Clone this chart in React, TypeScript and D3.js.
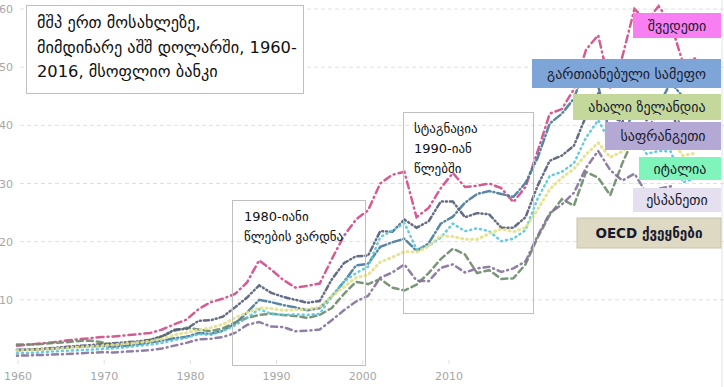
import { useEffect, useRef } from 'react';
import * as d3 from 'd3';

const years = d3.range(1960, 2017);
const xTickYears = [1960, 1970, 1980, 1990, 2000, 2010];
const yTicks = [10, 20, 30, 40, 50, 60];

// GDP per capita, thousand USD
const sweden = [2.1, 2.3, 2.5, 2.7, 3.0, 3.2, 3.4, 3.6, 3.7, 3.9, 4.1, 4.3, 4.9, 5.8, 6.6, 8.4, 9.6, 10.2, 11.0, 13.0,
  16.8, 15.2, 13.4, 12.1, 12.4, 12.8, 17.0, 21.0, 23.8, 25.4, 30.0, 31.5, 32.0, 24.2, 25.8, 29.2, 31.8, 29.4, 29.6, 30.0,
  29.2, 26.8, 29.4, 35.5, 42.0, 42.8, 46.2, 53.0, 55.5, 46.5, 51.8, 60.0, 58.0, 60.5, 57.5, 50.8, 51.5];
const uk = [1.4, 1.45, 1.5, 1.6, 1.75, 1.9, 2.0, 2.05, 1.95, 2.1, 2.35, 2.65, 3.0, 3.4, 3.65, 4.3, 4.15, 4.7, 5.9, 7.8,
  10.0, 9.6, 9.1, 8.7, 8.2, 8.6, 10.6, 13.1, 15.9, 16.2, 19.1, 19.9, 20.5, 18.4, 19.7, 23.1, 24.3, 26.7, 28.2, 28.7,
  28.2, 27.7, 30.1, 34.4, 40.3, 42.0, 44.6, 50.4, 46.8, 38.3, 39.1, 42.0, 42.5, 43.4, 47.4, 44.9, 41.1];
const newZealand = [2.3, 2.3, 2.4, 2.6, 2.7, 2.9, 3.0, 2.7, 2.2, 2.5, 2.7, 3.1, 3.7, 4.7, 5.2, 4.9, 4.6, 5.1, 6.1, 6.9,
  7.4, 7.6, 7.4, 7.2, 6.9, 7.4, 8.6, 11.0, 13.1, 12.7, 13.6, 12.1, 11.6, 12.6, 14.6, 17.0, 18.8, 17.8, 14.6, 15.1,
  13.6, 13.7, 16.1, 20.7, 24.6, 27.3, 26.2, 32.0, 31.0, 28.0, 33.5, 38.1, 39.5, 42.0, 44.6, 38.6, 40.0];
const france = [1.34, 1.43, 1.57, 1.73, 1.91, 2.05, 2.2, 2.37, 2.54, 2.7, 2.86, 3.13, 3.77, 4.87, 5.0, 6.4, 6.5, 7.1, 8.7, 10.4,
  12.5, 11.2, 10.5, 10.0, 9.5, 9.8, 13.5, 16.3, 17.5, 17.6, 21.8, 21.7, 23.8, 22.4, 23.5, 26.9, 26.9, 24.2, 24.9, 24.7,
  22.4, 22.4, 24.2, 29.6, 33.9, 34.8, 36.5, 41.6, 45.4, 41.6, 40.6, 43.8, 40.9, 42.6, 43.0, 36.7, 36.9];
const italy = [0.8, 0.88, 0.99, 1.13, 1.23, 1.32, 1.42, 1.54, 1.67, 1.83, 2.1, 2.28, 2.6, 3.1, 3.5, 4.1, 4.0, 4.6, 5.6, 6.9,
  8.4, 7.6, 7.4, 7.5, 7.4, 7.6, 10.6, 13.1, 14.6, 15.7, 20.8, 21.9, 23.2, 18.7, 19.3, 20.7, 23.1, 21.8, 22.3, 21.8,
  20.1, 20.5, 22.0, 27.4, 31.3, 32.0, 33.5, 37.9, 40.9, 37.1, 36.0, 38.6, 35.1, 35.6, 35.5, 30.2, 30.9];
const spain = [0.4, 0.45, 0.52, 0.6, 0.67, 0.78, 0.9, 0.98, 0.96, 1.09, 1.2, 1.35, 1.65, 2.13, 2.6, 3.2, 3.3, 3.6, 4.3, 5.7,
  6.2, 5.4, 5.3, 4.6, 4.7, 4.9, 6.5, 8.2, 9.7, 10.7, 13.8, 14.7, 16.1, 13.3, 13.2, 15.5, 16.1, 14.7, 15.4, 15.7,
  14.8, 15.4, 16.6, 21.0, 24.9, 26.4, 28.4, 32.7, 35.6, 32.3, 30.5, 31.7, 28.3, 29.1, 29.5, 25.7, 26.5];
const oecd = [1.3, 1.38, 1.48, 1.6, 1.72, 1.85, 2.0, 2.12, 2.27, 2.46, 2.65, 2.9, 3.3, 3.95, 4.35, 4.8, 5.2, 5.8, 6.9, 7.8,
  8.6, 8.5, 8.2, 8.3, 8.4, 8.7, 10.6, 12.2, 13.8, 14.3, 16.5, 17.3, 18.3, 18.2, 19.2, 21.0, 20.9, 20.4, 20.4, 21.4,
  22.2, 21.7, 22.4, 25.5, 29.0, 31.0, 32.5, 35.0, 37.0, 34.5, 35.5, 37.1, 36.5, 37.0, 37.6, 34.8, 35.2];

const seriesNames = ['შვედეთი', 'გართიანებული სამეფო', 'ახალი ზელანდია', 'საფრანგეთი', 'იტალია', 'ესპანეთი', 'OECD ქვეყნები'];
const seriesValues = [sweden, uk, newZealand, france, italy, spain, oecd];

const lineColors = ['#cf4a87', '#46799a', '#6a8c69', '#535c78', '#58c4da', '#85709a', '#e3e086'];
const lineDash = ['7,4,1,4', '8,3,1,3', '6,4', '5,3,1,3,1,3', '1,4', '1,4,6,4', '1,4'];
const labelFills = ['#f77ff2', '#7ea5d8', '#c4d89b', '#b4a9d4', '#80f5bb', '#e4e0ef', '#ddd9c3'];
// legend box rectangles [x, y, w, h]
const labelBoxes = [[633, 13, 88, 25], [532, 59, 189, 29], [573, 94, 148, 26], [605, 122, 116, 28],
  [639, 157, 82, 23], [633, 188, 88, 24], [577, 218, 144, 30]];

const titleLines = ['მშპ ერთ მოსახლეზე,', 'მიმდინარე აშშ დოლარში, 1960-', '2016, მსოფლიო ბანკი'];
const note1980 = ['1980-იანი', 'წლების ვარდნა'];
const note1990 = ['სტაგნაცია', '1990-იან', 'წლებში'];

const W = 724;
const H = 387;
const FONT = '"DejaVu Sans", sans-serif';

export default function App() {
  const svgRef = useRef<SVGSVGElement>(null);

  useEffect(() => {
    if (!svgRef.current) return;
    const svg = d3.select(svgRef.current);
    svg.selectAll('*').remove();

    const x = d3.scaleLinear().domain([1960, 2016]).range([17, 695]);
    const xLabel = d3.scaleLinear().domain([1960, 2010]).range([18, 449]);
    const y = d3.scaleLinear().domain([0, 60]).range([358, 9]);

    svg.append('rect').attr('width', W).attr('height', H).attr('fill', '#fff');

    // grid
    svg.append('g')
      .selectAll('line')
      .data(yTicks)
      .join('line')
      .attr('x1', 20)
      .attr('x2', W)
      .attr('y1', d => y(d))
      .attr('y2', d => y(d))
      .attr('stroke', '#e0e0e0')
      .attr('stroke-dasharray', '4,3');

    svg.append('g')
      .selectAll('text')
      .data(yTicks)
      .join('text')
      .attr('x', 13)
      .attr('y', d => y(d) + 4)
      .attr('text-anchor', 'end')
      .attr('font-family', FONT)
      .attr('font-size', 11)
      .attr('fill', '#a6a6a6')
      .text(d => d);

    // x axis labels
    const xg = svg.append('g');
    xg.selectAll('line')
      .data(xTickYears)
      .join('line')
      .attr('x1', d => xLabel(d))
      .attr('x2', d => xLabel(d))
      .attr('y1', 360)
      .attr('y2', 364)
      .attr('stroke', '#e0e0e0');
    xg.selectAll('text')
      .data(xTickYears)
      .join('text')
      .attr('x', d => xLabel(d))
      .attr('y', 380)
      .attr('text-anchor', 'middle')
      .attr('font-family', FONT)
      .attr('font-size', 11)
      .attr('fill', '#a6a6a6')
      .text(d => d);

    // right border
    svg.append('line')
      .attr('x1', 722).attr('x2', 722).attr('y1', 0).attr('y2', H)
      .attr('stroke', '#e4e4e4');

    // lines
    const line = d3.line<number>()
      .x((_, i) => x(years[i]))
      .y(d => y(d));

    seriesValues.forEach((vals, i) => {
      svg.append('path')
        .datum(vals)
        .attr('d', line)
        .attr('fill', 'none')
        .attr('stroke', lineColors[i])
        .attr('stroke-width', i === 6 ? 3 : 2.5)
        .attr('stroke-dasharray', lineDash[i])
        .attr('stroke-linecap', 'round')
        .attr('opacity', 0.9);
    });

    // annotation boxes
    const noteBox = (bx: number, by: number, bw: number, bh: number, lines: string[], tx: number, ty: number, lh: number) => {
      svg.append('rect')
        .attr('x', bx).attr('y', by).attr('width', bw).attr('height', bh)
        .attr('fill', 'none')
        .attr('stroke', '#bfbfbf');
      svg.append('g')
        .selectAll('text')
        .data(lines)
        .join('text')
        .attr('x', tx)
        .attr('y', (_, i) => ty + i * lh)
        .attr('font-family', FONT)
        .attr('font-size', 13)
        .attr('fill', '#111')
        .text(d => d);
    };
    noteBox(232.5, 200.5, 133, 165, note1980, 244, 221, 20);
    noteBox(403.5, 112.5, 130, 201, note1990, 414, 133, 20);

    // title box
    svg.append('rect')
      .attr('x', 26.5).attr('y', 5.5).attr('width', 277).attr('height', 88)
      .attr('fill', '#fff')
      .attr('stroke', '#bfbfbf');
    svg.append('g')
      .selectAll('text')
      .data(titleLines)
      .join('text')
      .attr('x', 37)
      .attr('y', (_, i) => 28 + i * 24.5)
      .attr('font-family', FONT)
      .attr('font-size', 16.3)
      .attr('fill', '#111')
      .text(d => d);

    // labels on the right
    const lg = svg.append('g');
    seriesNames.forEach((name, i) => {
      const [bx, by, bw, bh] = labelBoxes[i];
      lg.append('rect')
        .attr('x', bx).attr('y', by).attr('width', bw).attr('height', bh)
        .attr('fill', labelFills[i])
        .attr('stroke', i === 6 ? '#c8c4ae' : 'none');
      lg.append('text')
        .attr('x', bx + bw / 2)
        .attr('y', by + bh / 2 + 5)
        .attr('text-anchor', 'middle')
        .attr('font-family', FONT)
        .attr('font-size', i === 6 ? 13.5 : 14)
        .attr('font-weight', i === 6 ? 'bold' : 'normal')
        .attr('fill', '#1a1a2e')
        .text(name);
    });
  }, []);

  return (
    <svg
      ref={svgRef}
      width={W}
      height={H}
      style={{ position: 'absolute', left: 0, top: 0, display: 'block' }}
    />
  );
}
